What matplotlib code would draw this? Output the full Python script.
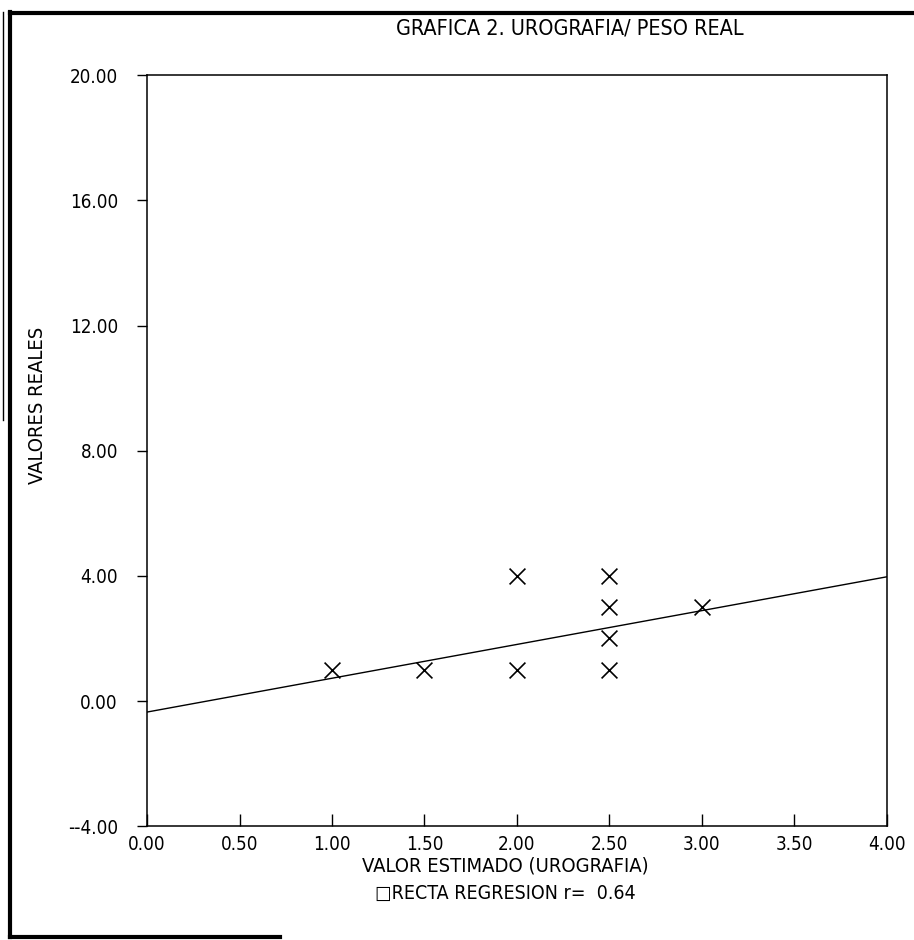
import matplotlib
matplotlib.use("Agg")
import matplotlib.pyplot as plt
import numpy as np

plt.rcParams['font.family'] = ['DejaVu Sans']
plt.rcParams['font.stretch'] = 'condensed'

# datos de la grafica
valor_estimado = [1.0, 1.5, 2.0, 2.0, 2.5, 2.5, 2.5, 2.5, 3.0]
valor_real = [1.0, 1.0, 4.0, 1.0, 4.0, 3.0, 2.0, 1.0, 3.0]

# recta de regresion
recta_ordenada = -0.35
recta_pendiente = 1.08
r_valor = 0.64

x_ticks = [0.0, 0.5, 1.0, 1.5, 2.0, 2.5, 3.0, 3.5, 4.0]
y_ticks = [-4.0, 0.0, 4.0, 8.0, 12.0, 16.0, 20.0]

fig = plt.figure(figsize=(9.14, 9.40), dpi=100)
ax = fig.add_axes([0.161, 0.121, 0.809, 0.799])

ax.scatter(valor_estimado, valor_real, marker='x', s=130, color='black', linewidths=1.2, zorder=3)

xr = np.array([0.0, 4.0])
ax.plot(xr, recta_ordenada + recta_pendiente * xr, color='black', linewidth=1.0)

ax.set_xlim(0, 4)
ax.set_ylim(-4, 20)
ax.set_xticks(x_ticks)
ax.set_xticklabels([f"{v:.2f}" for v in x_ticks])
ax.set_yticks(y_ticks)
ax.set_yticklabels([f"{v:.2f}".replace('-', '--') for v in y_ticks])
ax.tick_params(axis='x', direction='in', length=9, width=1, labelsize=13.5, pad=6)
ax.tick_params(axis='y', direction='out', length=7, width=1, labelsize=13.5, pad=14)
for sp in ax.spines.values():
    sp.set_linewidth(1.1)

fig.text(505 / 914, 1 - 866 / 940, 'VALOR ESTIMADO (UROGRAFIA)', fontsize=14.5,
         ha='center', va='center')
fig.text(38 / 914, 1 - 405 / 940, 'VALORES REALES', fontsize=14.5, rotation=90,
         ha='center', va='center')
fig.text(570 / 914, 1 - 28 / 940, 'GRAFICA 2. UROGRAFIA/ PESO REAL', fontsize=15.5,
         ha='center', va='center')
fig.text(505 / 914, 1 - 893 / 940, f'\u25a1RECTA REGRESION r=  {r_valor:.2f}', fontsize=14,
         ha='center', va='center')

# marco exterior del escaneo
fig.add_artist(plt.Line2D([10 / 914, 10 / 914], [1 - 12 / 940, 1 - 937 / 940],
                          color='black', linewidth=3, transform=fig.transFigure))
fig.add_artist(plt.Line2D([3 / 914, 3 / 914], [1 - 12 / 940, 1 - 420 / 940],
                          color='black', linewidth=1, transform=fig.transFigure))
fig.add_artist(plt.Line2D([10 / 914, 1.0], [1 - 13 / 940, 1 - 13 / 940],
                          color='black', linewidth=3, transform=fig.transFigure))
fig.add_artist(plt.Line2D([10 / 914, 280 / 914], [1 - 937 / 940, 1 - 937 / 940],
                          color='black', linewidth=3, transform=fig.transFigure))

fig.savefig('out.png', dpi=100)
plt.close(fig)
